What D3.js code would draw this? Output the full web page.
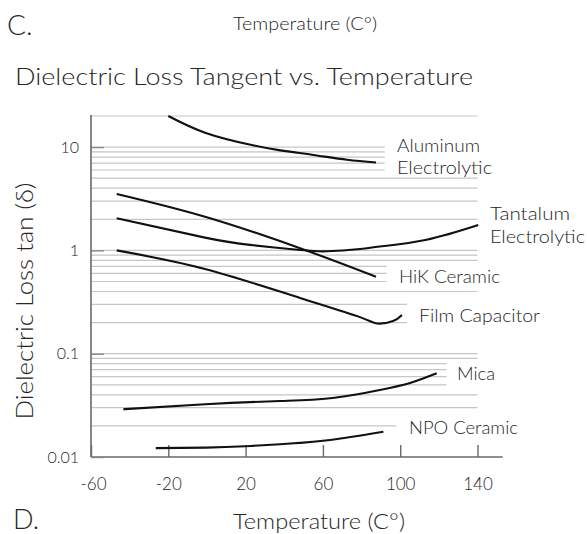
<!DOCTYPE html>
<html><head><meta charset="utf-8">
<script src="https://cdn.jsdelivr.net/npm/d3@7"></script>
<style>
html,body{margin:0;padding:0;background:#fff;}
svg text{font-family:Lato,"Open Sans",sans-serif;font-weight:300;fill:#262626;}
</style></head><body>
<svg id="c" width="587" height="534"></svg>
<script>
// ---- data ----
const xTickValues = [-60, -20, 20, 60, 100, 140];
const yTickValues = [0.01, 0.1, 1, 10];
const yTickLabels = ["0.01", "0.1", "1", "10"];
const gridValues = [20,10,9,8,7,6,5,4,3,2,1,0.9,0.8,0.7,0.6,0.5,0.4,0.3,0.2,0.1,0.09,0.08,0.07,0.06,0.05,0.04,0.03,0.02];
const gridEnds   = [140,92,92,92,92,92,140,140,140,140,140,140,140,93,93,93,140,103.5,103.5,140,140,124,124,124,124,140,140,98];

const aluminumT = [-20, -1, 22, 38, 55, 72.5, 87.5];
const aluminumV = [20, 13.8, 10.6, 9.3, 8.4, 7.55, 7.1];
const tantalumT = [-46.7, -1, 22.3, 48.2, 62, 79.2, 89.5, 113.7, 140.4];
const tantalumV = [2.05, 1.33, 1.13, 1.01, 0.98, 1.03, 1.09, 1.27, 1.76];
const hikT = [-46.7, -1, 48.2, 87.5];
const hikV = [3.52, 2.12, 1.05, 0.556];
const filmT = [-46.7, -1, 48.2, 79.2, 88, 96.3, 100.9];
const filmV = [1.0, 0.66, 0.346, 0.226, 0.196, 0.207, 0.237];
const micaT = [-43.3, -1, 37.8, 63.7, 89.5, 105.1, 118.9];
const micaV = [0.029, 0.0324, 0.0348, 0.037, 0.0446, 0.052, 0.0646];
const npoT = [-26.5, -0.5, 19.8, 37.8, 48.2, 63.7, 91.3];
const npoV = [0.0122, 0.01232, 0.0127, 0.0133, 0.0137, 0.0146, 0.01758];

const seriesNames = ["Aluminum", "Tantalum", "HiK Ceramic", "Film Capacitor", "Mica", "NPO Ceramic"];

// ---- layout ----
const svg = d3.select("#c");
const x = d3.scaleLinear().domain([-60, 140]).range([91, 477.5]);
const y = d3.scaleLog().domain([0.01, 20]).range([457, 116]);
const xAxisEnd = 153;

// gridlines
svg.append("g").selectAll("line").data(gridValues).join("line")
  .attr("x1", x(-60)).attr("x2", (d,i) => x(gridEnds[i]))
  .attr("y1", d => y(d)).attr("y2", d => y(d))
  .attr("stroke", "#c6c6c6").attr("stroke-width", 1.2);

// axes
const gx = svg.append("g").attr("transform", `translate(0,${y(0.01)})`)
  .call(d3.axisBottom(x).tickValues(xTickValues).tickSizeInner(-12).tickSizeOuter(0).tickPadding(21)
    .tickFormat(d => d < 0 ? "-" + Math.abs(d) : String(d)));
gx.select(".domain").remove();
gx.selectAll(".tick line").attr("stroke", "#6a6a6a").attr("stroke-width", 1.4);
gx.selectAll(".tick text").attr("font-size", 17).attr("fill", "#262626")
  .style("font-family", "Lato, sans-serif").style("font-weight", 300);
gx.selectAll(".tick text").filter(d => d === -60).attr("dx", 2);
svg.append("line").attr("x1", x(-60)).attr("x2", x(xAxisEnd)).attr("y1", y(0.01)).attr("y2", y(0.01))
  .attr("stroke", "#6a6a6a").attr("stroke-width", 1.6);

const gy = svg.append("g").attr("transform", `translate(${x(-60)},0)`)
  .call(d3.axisLeft(y).tickValues(yTickValues).tickSizeInner(-13).tickSizeOuter(0).tickPadding(12)
    .tickFormat((d,i) => yTickLabels[i]));
gy.select(".domain").remove();
gy.selectAll(".tick line").attr("stroke", "#8a8a8a").attr("stroke-width", 1.4);
gy.selectAll(".tick text").attr("font-size", 16).attr("fill", "#262626")
  .style("font-family", "Lato, sans-serif").style("font-weight", 300);
svg.append("line").attr("x1", x(-60)).attr("x2", x(-60)).attr("y1", y(20) - 1).attr("y2", y(0.01))
  .attr("stroke", "#6a6a6a").attr("stroke-width", 1.6);

// curves
const line = d3.line().x(d => x(d[0])).y(d => y(d[1])).curve(d3.curveNatural);
const curves = [
  [aluminumT, aluminumV], [tantalumT, tantalumV], [hikT, hikV],
  [filmT, filmV], [micaT, micaV], [npoT, npoV]
];
svg.append("g").selectAll("path").data(curves).join("path")
  .attr("d", c => line(c[0].map((t,i) => [t, c[1][i]])))
  .attr("fill", "none").attr("stroke", "#111").attr("stroke-width", 2.1);

// texts
function txt(s, xx, yy, size, len, anchor) {
  const t = svg.append("text").attr("x", xx).attr("y", yy).attr("font-size", size).text(s);
  if (len) t.attr("textLength", len).attr("lengthAdjust", "spacingAndGlyphs");
  if (anchor) t.attr("text-anchor", anchor);
  return t;
}
txt("C.", 7, 35, 28);
txt("Temperature (C°)", 233, 30, 17, 144);
txt("Dielectric Loss Tangent vs. Temperature", 15, 85, 23, 458);
txt("D.", 13, 529, 27);
txt("Temperature (C°)", 233, 529, 21, 172);

// series labels
txt("Aluminum", 397, 152, 17, 83);
txt("Electrolytic", 397, 174, 17, 95);
txt("Tantalum", 490, 220, 17, 80);
txt("Electrolytic", 490, 243, 17, 95);
txt(seriesNames[2], 399, 283, 17, 101);
txt(seriesNames[3], 419, 322, 17, 121);
txt(seriesNames[4], 457, 380, 17, 38);
txt(seriesNames[5], 409, 434, 17, 109);

// y label
svg.append("text").attr("transform", "translate(33,301) rotate(-90)")
  .attr("text-anchor", "middle").attr("font-size", 23)
  .attr("textLength", 237).attr("lengthAdjust", "spacingAndGlyphs")
  .text("Dielectric Loss tan (δ)");
</script>
</body></html>
